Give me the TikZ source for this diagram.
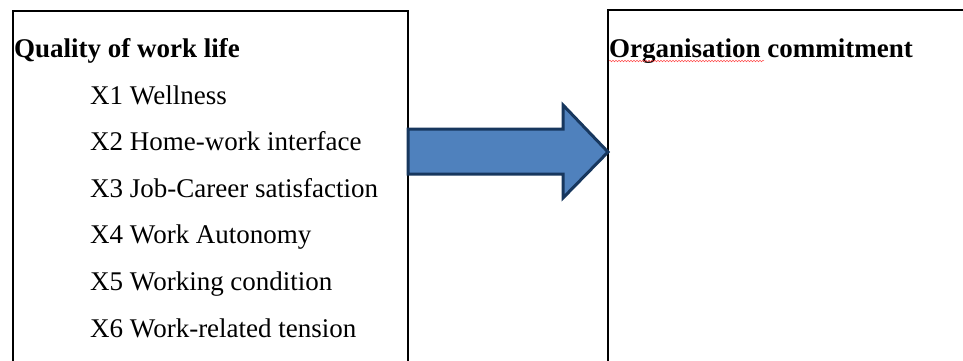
\documentclass[tikz,border=0pt]{standalone}
\usepackage{fontspec}
\setmainfont{Liberation Serif}
\usetikzlibrary{decorations.pathmorphing}
\definecolor{arrowfill}{HTML}{4F81BD}
\definecolor{arrowline}{HTML}{17375E}
\begin{document}
\begin{tikzpicture}[x=1pt, y=-1pt, font=\fontsize{27}{32}\selectfont]
            \tikzstyle{box line}=[draw=black, line width=1.4pt]
            \tikzstyle{heading}=[anchor=base west, inner sep=0pt, font=\fontsize{27}{32}\selectfont\bfseries]
            \tikzstyle{factor}=[anchor=base west, inner sep=0pt]
            \tikzstyle{big arrow}=[fill=arrowfill, draw=arrowline, line width=3pt, line join=miter]
            \useasboundingbox (0,0) rectangle (963,361);

            % 左框 (cut at the bottom)
            \draw[box line] (13,361) -- (13,11) -- (408,11) -- (408,361);
            % 右框
            \draw[box line] (608,361) -- (608,10) -- (963,10);

            % 标题
            \node[heading] (qwl) at (14,57) {Quality of work life};
            \node[heading] (oc) at (609,57) {Organisation commitment};
            \draw[red!70, line width=0.5pt, decorate,
                  decoration={snake, amplitude=0.8pt, segment length=3pt}]
                ([yshift=-4pt]oc.base west) -- ++(155,0);

            % 因素
            \foreach \i/\txt in {1/Wellness, 2/Home-work interface, 3/Job-Career satisfaction,
                                 4/Work Autonomy, 5/Working condition, 6/Work-related tension}
                \node[factor] (x\i) at (90,{104+46.6*(\i-1)}) {X\i\ \txt};

            % 箭头
            \coordinate (tail top) at (408,129);
            \coordinate (tail bot) at (408,174);
            \coordinate (tip) at (608,152);
            \draw[big arrow] (tail top) -- (563,129) -- (563,105) -- (tip)
                -- (563,198) -- (563,174) -- (tail bot) -- cycle;
        \end{tikzpicture}
\end{document}
